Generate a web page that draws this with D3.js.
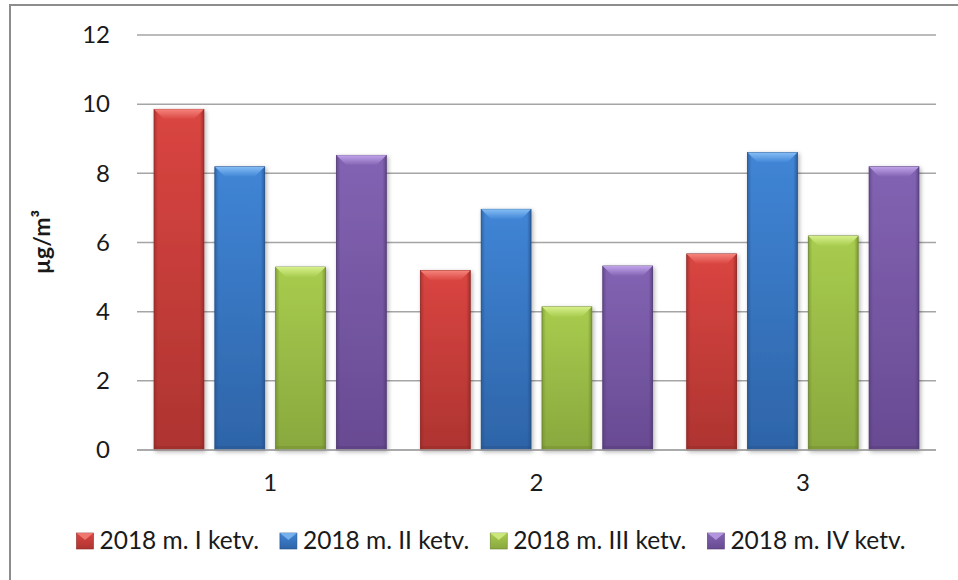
<!DOCTYPE html>
<html>
<head>
<meta charset="utf-8">
<script src="https://cdn.jsdelivr.net/npm/d3@7"></script>
<style>
  body { margin: 0; background: #fff; }
  #vis { width: 958px; height: 580px; }
  text { font-family: Lato, "Open Sans", sans-serif; fill: #1a1a1a; }
</style>
</head>
<body>
<div id="vis"></div>
<script>
var categories = ['1', '2', '3'];
var seriesNames = ['2018 m. I ketv.', '2018 m. II ketv.', '2018 m. III ketv.', '2018 m. IV ketv.'];
var q1 = [9.85, 5.19, 5.67];
var q2 = [8.19, 6.96, 8.60];
var q3 = [5.29, 4.14, 6.19];
var q4 = [8.52, 5.32, 8.19];
var yTicks = [0, 2, 4, 6, 8, 10, 12];
var yLabel = 'µg/m³';

var seriesValues = [q1, q2, q3, q4];
// light top, face, dark bottom
var palette = [
    { top: '#f5847c', face: '#da4541', bottom: '#ae3431', edge: '#8c2724' },
    { top: '#85bdf5', face: '#4085d6', bottom: '#2e64a8', edge: '#244f86' },
    { top: '#d6f08a', face: '#a8cc4e', bottom: '#89a83e', edge: '#6b842f' },
    { top: '#c0a3ea', face: '#8263b3', bottom: '#684a92', edge: '#523a74' }
];

var width = 958, height = 580;
var margin = { top: 35, bottom: 130, left: 137, right: 22 };

var svg = d3.select('#vis')
    .append('svg')
    .attr('width', width)
    .attr('height', height);

// chart border (right/bottom run off the picture)
svg.append('rect')
    .attr('x', 10)
    .attr('y', 5)
    .attr('width', 1000)
    .attr('height', 700)
    .attr('fill', 'none')
    .attr('stroke', '#8d8d8d')
    .attr('stroke-width', 2);

var defs = svg.append('defs');
var shadow = defs.append('filter')
    .attr('id', 'shadow')
    .attr('x', '-20%').attr('y', '-10%')
    .attr('width', '140%').attr('height', '120%');
shadow.append('feDropShadow')
    .attr('dx', 1.5).attr('dy', 1.5)
    .attr('stdDeviation', 2)
    .attr('flood-color', '#000')
    .attr('flood-opacity', 0.3);

palette.forEach(function(c, i) {
    var g = defs.append('linearGradient')
        .attr('id', 'face' + i)
        .attr('x1', 0).attr('y1', 0).attr('x2', 0).attr('y2', 1);
    g.append('stop').attr('offset', '0%').attr('stop-color', c.face);
    g.append('stop').attr('offset', '100%').attr('stop-color', c.bottom);

    var h = defs.append('linearGradient')
        .attr('id', 'side' + i)
        .attr('x1', 0).attr('y1', 0).attr('x2', 1).attr('y2', 0);
    h.append('stop').attr('offset', '0%').attr('stop-color', c.edge).attr('stop-opacity', 0.55);
    h.append('stop').attr('offset', '8%').attr('stop-color', c.edge).attr('stop-opacity', 0);
    h.append('stop').attr('offset', '92%').attr('stop-color', c.edge).attr('stop-opacity', 0);
    h.append('stop').attr('offset', '100%').attr('stop-color', c.edge).attr('stop-opacity', 0.7);

    var t = defs.append('linearGradient')
        .attr('id', 'bevel' + i)
        .attr('x1', 0).attr('y1', 0).attr('x2', 0).attr('y2', 1);
    t.append('stop').attr('offset', '0%').attr('stop-color', c.top);
    t.append('stop').attr('offset', '100%').attr('stop-color', c.face);
});

var innerW = width - margin.left - margin.right;
var innerH = height - margin.top - margin.bottom;

var g = svg.append('g')
    .attr('transform', 'translate(' + margin.left + ',' + margin.top + ')');

var x0 = d3.scaleBand()
    .domain(categories)
    .range([0, innerW])
    .paddingInner(0.128)
    .paddingOuter(0.064);

var x1 = d3.scaleBand()
    .domain(d3.range(seriesNames.length))
    .range([0, x0.bandwidth()])
    .paddingInner(0.18);

var y = d3.scaleLinear()
    .domain([0, 12])
    .range([innerH, 0]);

// gridlines
g.append('g')
    .attr('class', 'grid')
    .selectAll('line')
    .data(yTicks)
    .enter()
    .append('line')
    .attr('x1', 0)
    .attr('x2', innerW)
    .attr('y1', function(d) { return y(d); })
    .attr('y2', function(d) { return y(d); })
    .attr('stroke', '#a5a5a5')
    .attr('stroke-width', 1.5);

// y axis labels
var yAxis = d3.axisLeft(y)
    .tickValues(yTicks)
    .tickSize(0)
    .tickPadding(27);
var yg = g.append('g').call(yAxis);
yg.select('.domain').remove();
yg.selectAll('text')
    .style('font-size', '24px')
    .attr('fill', '#1a1a1a');

// x axis labels
var xAxis = d3.axisBottom(x0).tickSize(0).tickPadding(24);
var xg = g.append('g')
    .attr('transform', 'translate(0,' + innerH + ')')
    .call(xAxis);
xg.select('.domain').remove();
xg.selectAll('text')
    .style('font-size', '24px')
    .attr('fill', '#1a1a1a');

// y title
svg.append('text')
    .attr('transform', 'translate(50,242) rotate(-90)')
    .attr('text-anchor', 'middle')
    .style('font-size', '23px')
    .style('font-weight', 'bold')
    .text(yLabel);

// bars
var rows = [];
categories.forEach(function(cat, ci) {
    seriesValues.forEach(function(vals, si) {
        rows.push({ cat: cat, s: si, v: vals[ci] });
    });
});

var bars = g.selectAll('.bar')
    .data(rows)
    .enter()
    .append('g')
    .attr('class', 'bar')
    .attr('transform', function(d) {
        return 'translate(' + (x0(d.cat) + x1(d.s)) + ',' + y(d.v) + ')';
    });

var bw = x1.bandwidth();

bars.append('rect')
    .attr('width', bw)
    .attr('height', function(d) { return innerH - y(d.v); })
    .attr('fill', function(d) { return 'url(#face' + d.s + ')'; })
    .attr('stroke', function(d) { return palette[d.s].edge; })
    .attr('stroke-width', 0.8)
    .attr('filter', 'url(#shadow)');

bars.append('rect')
    .attr('width', bw)
    .attr('height', function(d) { return innerH - y(d.v); })
    .attr('fill', function(d) { return 'url(#side' + d.s + ')'; });

// top bevel
bars.append('path')
    .attr('d', 'M0,0 L' + bw + ',0 L' + (bw - 10) + ',10 L10,10 Z')
    .attr('fill', function(d) { return 'url(#bevel' + d.s + ')'; });

// bottom bevel
bars.append('rect')
    .attr('y', function(d) { return innerH - y(d.v) - 4; })
    .attr('width', bw)
    .attr('height', 4)
    .attr('fill', function(d) { return palette[d.s].edge; })
    .attr('opacity', 0.35);

// axis line on top of shadows
g.append('line')
    .attr('x1', 0).attr('x2', innerW)
    .attr('y1', y(0)).attr('y2', y(0))
    .attr('stroke', '#a5a5a5')
    .attr('stroke-width', 1.5);

// legend
var legend = svg.append('g').attr('class', 'legend');
var lx = 0;
seriesNames.forEach(function(name, i) {
    var item = legend.append('g').attr('transform', 'translate(' + lx + ',0)');
    item.append('rect')
        .attr('x', 0).attr('y', -8)
        .attr('width', 17).attr('height', 16)
        .attr('fill', 'url(#face' + i + ')')
        .attr('stroke', palette[i].edge)
        .attr('stroke-width', 0.6);
    item.append('path')
        .attr('d', 'M0,-8 L17,-8 L8.5,-1 Z')
        .attr('fill', palette[i].top)
        .attr('opacity', 0.8);
    var t = item.append('text')
        .attr('x', 23)
        .attr('y', 8)
        .style('font-size', '24.5px')
        .text(name);
    lx += 23 + t.node().getComputedTextLength() + 21;
});
var legendW = lx - 21;
legend.attr('transform', 'translate(' + (491 - legendW / 2) + ',541)');
</script>
</body>
</html>
